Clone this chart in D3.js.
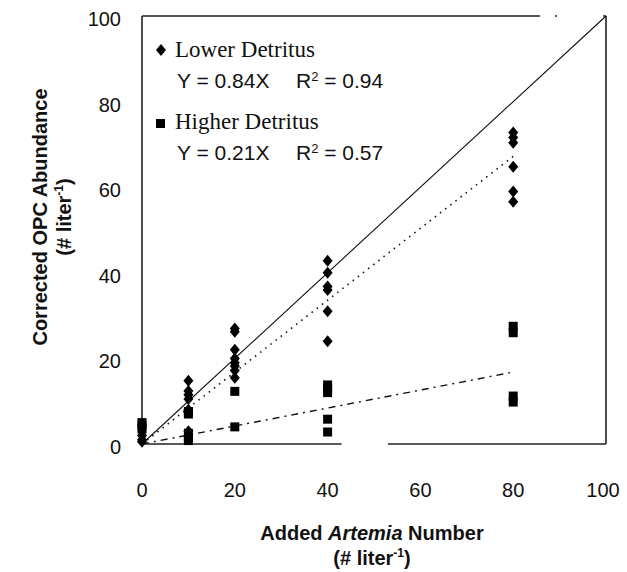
<!DOCTYPE html>
<html>
<head>
<meta charset="utf-8">
<script src="https://cdn.jsdelivr.net/npm/d3@7"></script>
<style>
  body { margin: 0; background: #fff; }
  text { fill: #111; }
</style>
</head>
<body>
<div id="chart"></div>
<script>
var width = 627
var height = 572

// lower detritus (diamonds)
var lowerX = [0, 0, 0, 10, 10, 10, 10, 10, 10, 20, 20, 20, 20, 20, 20, 20, 20, 40, 40, 40, 40, 40, 40, 80, 80, 80, 80, 80, 80]
var lowerY = [2, 1, 0.5, 14.8, 12.4, 11.5, 10.5, 8, 3, 27, 26.2, 22, 20, 19, 18.2, 17.2, 15.5, 42.8, 40, 36.8, 36, 31, 24, 72.8, 71.6, 70.4, 64.8, 59, 56.6]
// higher detritus (squares)
var higherX = [0, 0, 0, 10, 10, 10, 10, 10, 20, 20, 40, 40, 40, 40, 40, 80, 80, 80, 80]
var higherY = [5, 4.3, 3.5, 7.6, 7, 2.5, 1.5, 0.8, 12.3, 4, 13.8, 13, 12, 5.8, 2.8, 27.5, 26, 11.2, 9.8]

var xTicks = [0, 20, 40, 60, 80, 100]
var yTicks = [0, 20, 40, 60, 80, 100]

// fitted slopes
var lowerSlope = 0.84
var higherSlope = 0.21
var fitEnd = 80

var svg = d3.select('#chart').append('svg')
    .attr('width', width)
    .attr('height', height)

var x = d3.scaleLinear().domain([0, 100]).range([142, 606])
var y = d3.scaleLinear().domain([0, 100]).range([444, 16])

// frame, drawn in pieces like the scan
var frame = [
    [[0, 0], [0, 100]],
    [[100, 0], [100, 100]],
    [[0, 0], [43, 0]],
    [[53, 0], [100, 0]],
    [[0, 100], [85.8, 100]],
    [[89, 100], [89.4, 100]],
    [[99.4, 100], [100, 100]]
]
svg.append('g').selectAll('line')
    .data(frame)
    .enter().append('line')
    .attr('x1', function (d) { return x(d[0][0]) })
    .attr('y1', function (d) { return y(d[0][1]) })
    .attr('x2', function (d) { return x(d[1][0]) })
    .attr('y2', function (d) { return y(d[1][1]) })
    .attr('stroke', '#222')
    .attr('stroke-width', 1.6)

// tick labels
svg.append('g').selectAll('text')
    .data(yTicks)
    .enter().append('text')
    .attr('x', 121)
    .attr('y', function (d) { return y(d) + 10 })
    .attr('text-anchor', 'end')
    .attr('font-family', 'Liberation Sans, Arial, sans-serif')
    .attr('font-size', 20)
    .text(function (d) { return d })

svg.append('g').selectAll('text')
    .data(xTicks)
    .enter().append('text')
    .attr('x', function (d) { return d === 100 ? x(d) - 3 : x(d) })
    .attr('y', 497)
    .attr('text-anchor', 'middle')
    .attr('font-family', 'Liberation Sans, Arial, sans-serif')
    .attr('font-size', 20)
    .text(function (d) { return d })

// 1:1 line
svg.append('line')
    .attr('x1', x(0)).attr('y1', y(0))
    .attr('x2', x(100)).attr('y2', y(100))
    .attr('stroke', '#111')
    .attr('stroke-width', 1.1)

// regression lines
svg.append('line')
    .attr('x1', x(0)).attr('y1', y(0))
    .attr('x2', x(fitEnd)).attr('y2', y(lowerSlope * fitEnd))
    .attr('stroke', '#111')
    .attr('stroke-width', 1.6)
    .attr('stroke-dasharray', '1.5,5')

svg.append('line')
    .attr('x1', x(0)).attr('y1', y(0))
    .attr('x2', x(fitEnd)).attr('y2', y(higherSlope * fitEnd))
    .attr('stroke', '#111')
    .attr('stroke-width', 1.4)
    .attr('stroke-dasharray', '7,5,2,5')

function diamond(cx, cy) {
    var p = d3.path()
    p.moveTo(cx, cy - 6)
    p.lineTo(cx + 5, cy)
    p.lineTo(cx, cy + 6)
    p.lineTo(cx - 5, cy)
    p.closePath()
    return p.toString()
}

var lowerPts = lowerX.map(function (v, i) { return {x: v, y: lowerY[i]} })
var higherPts = higherX.map(function (v, i) { return {x: v, y: higherY[i]} })

svg.append('g').selectAll('rect')
    .data(higherPts)
    .enter().append('rect')
    .attr('x', function (d) { return x(d.x) - 4.5 })
    .attr('y', function (d) { return y(d.y) - 4.5 })
    .attr('width', 9)
    .attr('height', 9)
    .attr('fill', '#000')

svg.append('g').selectAll('path')
    .data(lowerPts)
    .enter().append('path')
    .attr('d', function (d) { return diamond(x(d.x), y(d.y)) })
    .attr('fill', '#000')

// legend
var legend = svg.append('g')
legend.append('path').attr('d', diamond(161, 50)).attr('fill', '#000')
legend.append('rect').attr('x', 156).attr('y', 119).attr('width', 9).attr('height', 9).attr('fill', '#000')

var serif = 'Liberation Serif, Times New Roman, serif'
var sans = 'Liberation Sans, Arial, sans-serif'

legend.append('text').attr('x', 175).attr('y', 57)
    .attr('font-family', serif).attr('font-size', 23)
    .text('Lower Detritus')
legend.append('text').attr('x', 175).attr('y', 129)
    .attr('font-family', serif).attr('font-size', 23)
    .text('Higher Detritus')

function equation(yPos, slope, r2) {
    var t = legend.append('text').attr('x', 177).attr('y', yPos)
        .attr('font-family', sans).attr('font-size', 21)
    t.append('tspan').text('Y = ' + slope + 'X')
    t.append('tspan').attr('x', 296).text('R')
    t.append('tspan').attr('font-size', 13).attr('dy', -7).text('2')
    t.append('tspan').attr('dy', 7).text(' = ' + r2)
}
equation(88, '0.84', '0.94')
equation(160, '0.21', '0.57')

// axis titles
var xt = svg.append('text')
    .attr('x', 372).attr('y', 540)
    .attr('text-anchor', 'middle')
    .attr('font-family', sans).attr('font-size', 20).attr('font-weight', 'bold')
xt.append('tspan').text('Added ')
xt.append('tspan').attr('font-style', 'italic').text('Artemia')
xt.append('tspan').text(' Number')

var xt2 = svg.append('text')
    .attr('x', 372).attr('y', 565)
    .attr('text-anchor', 'middle')
    .attr('font-family', sans).attr('font-size', 20).attr('font-weight', 'bold')
xt2.append('tspan').text('(# liter')
xt2.append('tspan').attr('font-size', 12).attr('dy', -8).text('-1')
xt2.append('tspan').attr('dy', 8).text(')')

var yt = svg.append('text')
    .attr('transform', 'translate(47,217) rotate(-90)')
    .attr('text-anchor', 'middle')
    .attr('font-family', sans).attr('font-size', 20).attr('font-weight', 'bold')
    .text('Corrected OPC Abundance')

var yt2 = svg.append('text')
    .attr('transform', 'translate(71,217) rotate(-90)')
    .attr('text-anchor', 'middle')
    .attr('font-family', sans).attr('font-size', 20).attr('font-weight', 'bold')
yt2.append('tspan').text('(# liter')
yt2.append('tspan').attr('font-size', 12).attr('dy', -8).text('-1')
yt2.append('tspan').attr('dy', 8).text(')')
</script>
</body>
</html>
